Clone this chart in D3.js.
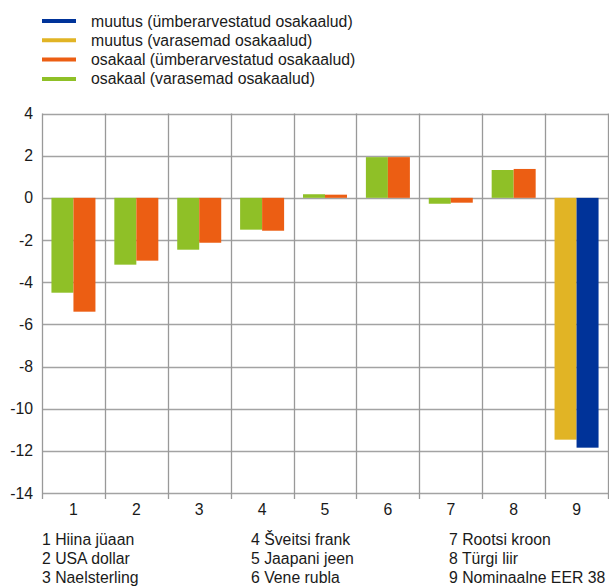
<!DOCTYPE html>
<html>
<head>
<meta charset="utf-8">
<script src="https://cdn.jsdelivr.net/npm/d3@7"></script>
<style>
  body { margin: 0; background: #fff; }
  text { font-family: "Liberation Sans", Arial, sans-serif; fill: #1a1a1a; font-size: 15.8px; }
</style>
</head>
<body>
<script>
// Categories and series
var categories = ["1", "2", "3", "4", "5", "6", "7", "8", "9"];
var categoryNames = ["1 Hiina jüaan", "2 USA dollar", "3 Naelsterling",
  "4 Šveitsi frank", "5 Jaapani jeen", "6 Vene rubla",
  "7 Rootsi kroon", "8 Türgi liir", "9 Nominaalne EER 38"];

var osakaalVarasemad = [-4.5, -3.17, -2.46, -1.51, 0.17, 1.93, -0.28, 1.32, null];
var osakaalUmber = [-5.4, -2.98, -2.13, -1.56, 0.15, 1.93, -0.23, 1.37, null];
var muutusVarasemad = [null, null, null, null, null, null, null, null, -11.47];
var muutusUmber = [null, null, null, null, null, null, null, null, -11.85];

var yTicks = [4, 2, 0, -2, -4, -6, -8, -10, -12, -14];

// series order as drawn inside a category (left to right)
var series = [
  { name: "osakaal (varasemad osakaalud)", color: "#8fc027", values: osakaalVarasemad },
  { name: "muutus (varasemad osakaalud)", color: "#e1b425", values: muutusVarasemad },
  { name: "osakaal (ümberarvestatud osakaalud)", color: "#ec5e13", values: osakaalUmber },
  { name: "muutus (ümberarvestatud osakaalud)", color: "#003399", values: muutusUmber }
];
// legend order
var legendSeries = [series[3], series[1], series[2], series[0]];

var svgWidth = 609;
var svgHeight = 587;

var plot = { left: 42, right: 608, top: 113.5, bottom: 493 };

var svg = d3.select("body")
    .append("svg")
    .attr("width", svgWidth)
    .attr("height", svgHeight);

var xBandScale = d3.scaleBand()
    .domain(categories)
    .range([plot.left, plot.right])
    .padding(0);

var yLinearScale = d3.scaleLinear()
    .domain([-14, 4])
    .range([plot.bottom, plot.top]);

var gridColor = "#a3a3a3";

// horizontal gridlines
svg.append("g")
    .selectAll("line")
    .data(yTicks)
    .enter()
    .append("line")
    .attr("x1", plot.left)
    .attr("x2", plot.right)
    .attr("y1", d => Math.round(yLinearScale(d)) + 0.5)
    .attr("y2", d => Math.round(yLinearScale(d)) + 0.5)
    .attr("stroke", gridColor)
    .attr("stroke-width", 1.3);

// vertical gridlines at category boundaries (extend below as ticks)
var bounds = categories.map(c => xBandScale(c)).concat([plot.right]);
svg.append("g")
    .selectAll("line")
    .data(bounds)
    .enter()
    .append("line")
    .attr("x1", d => Math.round(d) + 0.5)
    .attr("x2", d => Math.round(d) + 0.5)
    .attr("y1", plot.top)
    .attr("y2", plot.bottom + 6)
    .attr("stroke", "#999")
    .attr("stroke-width", 1.3);

// bars: each category draws only its non-null series, centred
var barWidth = 22;
var barGroup = svg.append("g");
categories.forEach(function (c, i) {
  var present = series.filter(s => s.values[i] !== null);
  var center = xBandScale(c) + xBandScale.bandwidth() / 2;
  var start = center - present.length * barWidth / 2;
  present.forEach(function (s, j) {
    var v = s.values[i];
    barGroup.append("rect")
        .attr("x", start + j * barWidth)
        .attr("width", barWidth)
        .attr("y", yLinearScale(Math.max(0, v)))
        .attr("height", Math.abs(yLinearScale(v) - yLinearScale(0)))
        .attr("fill", s.color);
  });
});

// y tick labels
svg.append("g")
    .selectAll("text")
    .data(yTicks)
    .enter()
    .append("text")
    .attr("x", 33)
    .attr("y", d => yLinearScale(d) + 5.5)
    .attr("text-anchor", "end")
    .text(d => d);

// x tick labels
svg.append("g")
    .selectAll("text")
    .data(categories)
    .enter()
    .append("text")
    .attr("x", d => xBandScale(d) + xBandScale.bandwidth() / 2)
    .attr("y", 515)
    .attr("text-anchor", "middle")
    .text(d => d);

// legend
var legend = svg.append("g");
legendSeries.forEach(function (s, i) {
  var y = 21 + i * 19.3;
  legend.append("line")
      .attr("x1", 42).attr("x2", 76)
      .attr("y1", y).attr("y2", y)
      .attr("stroke", s.color)
      .attr("stroke-width", 4);
  legend.append("text")
      .attr("x", 91)
      .attr("y", y + 5.5)
      .text(s.name);
});

// category names in three columns
var colX = [42, 251, 449];
svg.append("g")
    .selectAll("text")
    .data(categoryNames)
    .enter()
    .append("text")
    .attr("x", (d, i) => colX[Math.floor(i / 3)])
    .attr("y", (d, i) => 545 + (i % 3) * 19)
    .text(d => d);
</script>
</body>
</html>
